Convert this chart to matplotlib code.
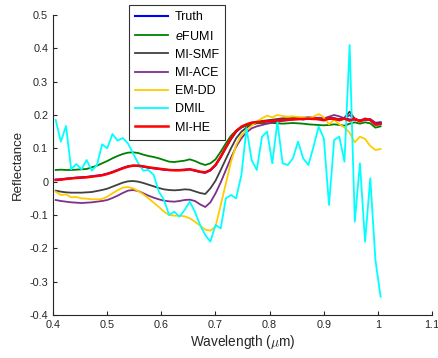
import matplotlib
matplotlib.use('Agg')
import matplotlib.pyplot as plt

plt.rcParams['font.family'] = ['Liberation Sans', 'DejaVu Sans']
plt.rcParams['mathtext.fontset'] = 'custom'
plt.rcParams['mathtext.it'] = 'Liberation Sans:italic'
plt.rcParams['mathtext.rm'] = 'Liberation Sans'

# wavelength of each band (um)
wavelength = [
    0.405, 0.4145, 0.424, 0.4336, 0.443, 0.4526, 0.4621, 0.4717, 0.4812, 0.4907,
    0.5002, 0.5098, 0.5193, 0.5288, 0.5383, 0.5479, 0.5574, 0.5669, 0.5764, 0.5860,
    0.5955, 0.6050, 0.6145, 0.6240, 0.6336, 0.6431, 0.6526, 0.6621, 0.6717, 0.6812,
    0.6907, 0.7002, 0.7098, 0.7193, 0.7288, 0.7383, 0.7479, 0.7574, 0.7669, 0.7764,
    0.7860, 0.7955, 0.8050, 0.8145, 0.8240, 0.8336, 0.8431, 0.8526, 0.8621, 0.8717,
    0.8812, 0.8907, 0.9002, 0.9098, 0.9193, 0.9288, 0.9383, 0.9479, 0.9574, 0.9669,
    0.9764, 0.9860, 0.9955, 1.0050]

truth = [
    0.006, 0.007, 0.009, 0.010, 0.012, 0.013, 0.014, 0.016, 0.018, 0.020,
    0.024, 0.029, 0.035, 0.041, 0.046, 0.048, 0.047, 0.045, 0.042, 0.040,
    0.038, 0.036, 0.035, 0.035, 0.035, 0.036, 0.037, 0.033, 0.029, 0.027,
    0.034, 0.049, 0.074, 0.102, 0.128, 0.150, 0.163, 0.171, 0.176, 0.178,
    0.180, 0.182, 0.183, 0.184, 0.186, 0.186, 0.188, 0.189, 0.187, 0.190,
    0.189, 0.187, 0.186, 0.188, 0.190, 0.184, 0.191, 0.186, 0.187, 0.183,
    0.186, 0.187, 0.176, 0.178]

efumi = [
    0.035, 0.036, 0.035, 0.035, 0.036, 0.037, 0.038, 0.043, 0.048, 0.055,
    0.062, 0.070, 0.077, 0.083, 0.087, 0.088, 0.086, 0.081, 0.077, 0.074,
    0.070, 0.065, 0.060, 0.059, 0.061, 0.063, 0.067, 0.062, 0.055, 0.050,
    0.055, 0.067, 0.090, 0.115, 0.138, 0.153, 0.163, 0.168, 0.172, 0.175,
    0.176, 0.175, 0.176, 0.175, 0.174, 0.175, 0.176, 0.175, 0.174, 0.172,
    0.171, 0.170, 0.169, 0.170, 0.172, 0.170, 0.168, 0.174, 0.178, 0.174,
    0.178, 0.175, 0.162, 0.166]

mi_smf = [
    -0.027, -0.030, -0.032, -0.033, -0.033, -0.033, -0.032, -0.031, -0.028, -0.025,
    -0.021, -0.015, -0.009, -0.003, 0.001, 0.002, 0.000, -0.004, -0.009, -0.014,
    -0.019, -0.023, -0.025, -0.026, -0.025, -0.023, -0.024, -0.029, -0.034, -0.037,
    -0.020, 0.003, 0.035, 0.068, 0.100, 0.130, 0.150, 0.162, 0.170, 0.177,
    0.182, 0.184, 0.186, 0.188, 0.190, 0.190, 0.191, 0.192, 0.192, 0.193,
    0.193, 0.190, 0.186, 0.192, 0.190, 0.188, 0.192, 0.210, 0.188, 0.183,
    0.187, 0.184, 0.170, 0.172]

mi_ace = [
    -0.055, -0.058, -0.060, -0.062, -0.063, -0.064, -0.063, -0.062, -0.060, -0.058,
    -0.055, -0.049, -0.042, -0.034, -0.027, -0.025, -0.028, -0.035, -0.042, -0.048,
    -0.053, -0.057, -0.059, -0.060, -0.058, -0.055, -0.054, -0.058, -0.068, -0.076,
    -0.062, -0.035, -0.002, 0.035, 0.072, 0.105, 0.130, 0.148, 0.160, 0.166,
    0.170, 0.174, 0.177, 0.180, 0.182, 0.184, 0.186, 0.187, 0.188, 0.190,
    0.190, 0.192, 0.190, 0.195, 0.200, 0.196, 0.190, 0.200, 0.185, 0.183,
    0.190, 0.184, 0.175, 0.175]

em_dd = [
    -0.030, -0.040, -0.038, -0.047, -0.046, -0.050, -0.051, -0.053, -0.053, -0.052,
    -0.045, -0.035, -0.026, -0.018, -0.016, -0.020, -0.028, -0.038, -0.050, -0.063,
    -0.076, -0.090, -0.100, -0.102, -0.102, -0.104, -0.110, -0.120, -0.132, -0.144,
    -0.147, -0.135, -0.070, -0.005, 0.060, 0.110, 0.140, 0.155, 0.168, 0.180,
    0.190, 0.198, 0.193, 0.200, 0.197, 0.195, 0.196, 0.194, 0.192, 0.190,
    0.195, 0.203, 0.193, 0.172, 0.186, 0.172, 0.163, 0.147, 0.118, 0.135,
    0.128, 0.107, 0.095, 0.098]

dmil = [
    0.185, 0.120, 0.167, 0.037, 0.053, 0.037, 0.065, 0.033, 0.050, 0.112,
    0.100, 0.143, 0.123, 0.131, 0.115, 0.085, 0.055, 0.033, 0.035, 0.020,
    -0.030, -0.055, -0.100, -0.090, -0.105, -0.085, -0.060, -0.090, -0.130, -0.160,
    -0.180, -0.130, -0.140, -0.050, -0.040, -0.050, 0.020, 0.160, 0.065, 0.035,
    0.135, 0.150, 0.055, 0.180, 0.055, 0.050, 0.070, 0.120, 0.070, 0.050,
    0.105, 0.165, 0.130, -0.070, 0.125, 0.135, 0.060, 0.410, -0.120, 0.055,
    -0.180, 0.010, -0.235, -0.345]

mi_he = [
    0.005, 0.006, 0.008, 0.010, 0.011, 0.012, 0.013, 0.015, 0.017, 0.019,
    0.023, 0.028, 0.034, 0.040, 0.045, 0.048, 0.048, 0.046, 0.043, 0.041,
    0.039, 0.037, 0.035, 0.034, 0.034, 0.035, 0.037, 0.034, 0.030, 0.028,
    0.035, 0.050, 0.075, 0.103, 0.130, 0.152, 0.165, 0.172, 0.177, 0.179,
    0.180, 0.181, 0.182, 0.184, 0.185, 0.186, 0.187, 0.188, 0.188, 0.189,
    0.188, 0.188, 0.184, 0.190, 0.188, 0.185, 0.189, 0.183, 0.189, 0.181,
    0.187, 0.186, 0.172, 0.174]

series = [
    ('Truth', truth, '#0000ff', 1.5),
    ('$\\mathit{e}$FUMI', efumi, '#008000', 1.3),
    ('MI-SMF', mi_smf, '#404040', 1.3),
    ('MI-ACE', mi_ace, '#7e2f8e', 1.3),
    ('EM-DD', em_dd, '#ffcc00', 1.3),
    ('DMIL', dmil, '#00ffff', 1.3),
    ('MI-HE', mi_he, '#ff0000', 1.8),
]

fig = plt.figure(figsize=(4.39, 3.58), dpi=100)
ax = fig.add_axes([53 / 439, 1 - 315 / 358, 379 / 439, 300 / 358])

for label, vals, color, lw in series:
    ax.plot(wavelength, vals, color=color, lw=lw, label=label)

ax.set_xlim(0.4, 1.1)
ax.set_ylim(-0.4, 0.5)
xt = [0.4, 0.5, 0.6, 0.7, 0.8, 0.9, 1.0, 1.1]
yt = [-0.4, -0.3, -0.2, -0.1, 0, 0.1, 0.2, 0.3, 0.4, 0.5]
ax.set_xticks(xt)
ax.set_xticklabels(['0.4', '0.5', '0.6', '0.7', '0.8', '0.9', '1', '1.1'])
ax.set_yticks(yt)
ax.set_yticklabels(['-0.4', '-0.3', '-0.2', '-0.1', '0', '0.1', '0.2', '0.3', '0.4', '0.5'])

for side in ['top', 'right']:
    ax.spines[side].set_visible(False)
for side in ['left', 'bottom']:
    ax.spines[side].set_color('#262626')
    ax.spines[side].set_linewidth(0.8)
ax.tick_params(direction='in', length=3, width=0.8, colors='#262626',
               labelsize=7.8, labelcolor='#262626')

ax.set_xlabel('Wavelength ($\\mu$m)', fontsize=9.8, color='#262626', labelpad=2,
              math_fontfamily='cm')
ax.set_ylabel('Reflectance', fontsize=9.5, color='#262626', labelpad=4)

leg = ax.legend(loc='upper left', bbox_to_anchor=(129 / 439, 1 - 5 / 358),
                bbox_transform=fig.transFigure, fontsize=9, frameon=True,
                fancybox=False, borderaxespad=0, handlelength=2.6,
                handletextpad=0.55, labelspacing=0.5, borderpad=0.5)
leg.get_frame().set_edgecolor('black')
leg.get_frame().set_linewidth(0.8)

fig.savefig('out.png', dpi=100)
